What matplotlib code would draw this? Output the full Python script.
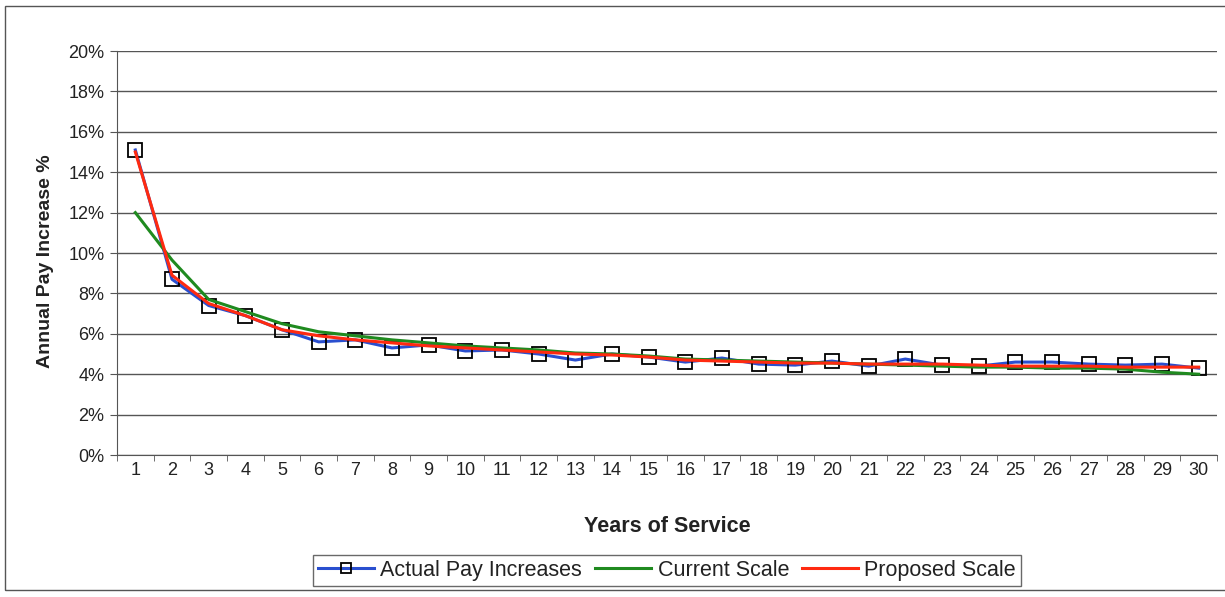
import matplotlib.pyplot as plt
import numpy as np
from matplotlib.patches import Rectangle
from matplotlib.ticker import FixedLocator, PercentFormatter

plt.rcParams['font.family'] = ['Liberation Sans', 'DejaVu Sans']

years = list(range(1, 31))

actual = [15.1, 8.7, 7.4, 6.9, 6.2, 5.6, 5.7, 5.3, 5.45, 5.15,
          5.2, 5.0, 4.7, 5.0, 4.85, 4.6, 4.8, 4.5, 4.45, 4.65,
          4.4, 4.75, 4.45, 4.4, 4.6, 4.6, 4.5, 4.45, 4.5, 4.3]

current = [12.0, 9.65, 7.7, 7.1, 6.5, 6.1, 5.9, 5.7, 5.55, 5.4,
           5.3, 5.2, 5.05, 5.0, 4.9, 4.75, 4.7, 4.65, 4.6, 4.55,
           4.5, 4.45, 4.4, 4.35, 4.35, 4.3, 4.3, 4.25, 4.1, 4.0]

proposed = [15.0, 8.9, 7.5, 6.9, 6.2, 5.9, 5.7, 5.55, 5.4, 5.3,
            5.2, 5.1, 5.0, 4.95, 4.85, 4.7, 4.65, 4.6, 4.55, 4.55,
            4.5, 4.5, 4.5, 4.45, 4.4, 4.4, 4.4, 4.35, 4.35, 4.35]

fig = plt.figure(figsize=(12.25, 5.97), dpi=100)
ax = fig.add_axes([117 / 1225, 1 - 455 / 597, (1217 - 117) / 1225, (455 - 51) / 597])

# chart frame
fig.patches.append(Rectangle((5 / 1225, 7 / 597), 1.1, 1 - 13 / 597, transform=fig.transFigure,
                             fill=False, edgecolor='#555555', linewidth=1.0))

ax.plot(years, actual, color='#2a4fcf', lw=2.2, marker='s', ms=9.5, mfc='none',
        mec='black', mew=1.3, label='Actual Pay Increases', zorder=3)
ax.plot(years, current, color='#1f8a1f', lw=2.2, label='Current Scale', zorder=4)
ax.plot(years, proposed, color='#ff2a10', lw=2.2, label='Proposed Scale', zorder=5)

ax.set_xlim(0.5, 30.5)
ax.set_ylim(0, 20)
ax.set_yticks(np.arange(0, 21, 2))
ax.yaxis.set_major_formatter(PercentFormatter(decimals=0))
ax.set_xticks(years)
ax.xaxis.set_minor_locator(FixedLocator(np.arange(0.5, 31, 1)))
ax.tick_params(axis='x', which='major', length=0, labelsize=13, pad=5, colors='#222222')
ax.tick_params(axis='x', which='minor', length=4, direction='out', color='#555555')
ax.tick_params(axis='y', length=5, labelsize=13, pad=4, color='#555555', labelcolor='#222222')
ax.grid(axis='y', color='#555555', lw=1.0)
ax.set_axisbelow(True)
for s in ['top', 'right']:
    ax.spines[s].set_visible(False)
for s in ['left', 'bottom']:
    ax.spines[s].set_color('#555555')

ax.set_xlabel('Years of Service', fontsize=15.5, fontweight='bold', labelpad=27, color='#222222')
ax.set_ylabel('Annual Pay Increase %', fontsize=14, fontweight='bold', labelpad=10, color='#222222')
ax.yaxis.label.set_y(0.48)

leg = ax.legend(loc='upper center', bbox_to_anchor=(0.5, -0.22), ncol=3, frameon=True,
                fancybox=False, edgecolor='#444444', fontsize=15.5, handlelength=2.6,
                handletextpad=0.3, columnspacing=0.6, borderpad=0.25, markerscale=0.7)
leg.get_frame().set_linewidth(1.0)
for t in leg.get_texts():
    t.set_color('#222222')

fig.savefig('out.png', dpi=100)
